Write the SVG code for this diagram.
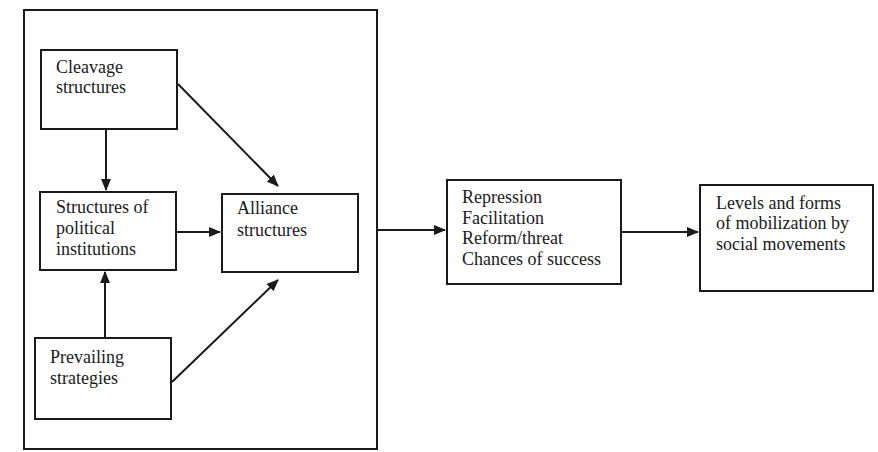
<svg xmlns="http://www.w3.org/2000/svg" width="878" height="452" viewBox="0 0 878 452">
<defs>
<marker id="ah" markerWidth="12" markerHeight="10" refX="11" refY="5" orient="auto" markerUnits="userSpaceOnUse">
<path d="M0,0 L12,5 L0,10 Z" fill="#1a1a1a"/>
</marker>
<style>
.box{fill:#fff;stroke:#1a1a1a;stroke-width:2}
.frame{fill:none;stroke:#1a1a1a;stroke-width:2}
.t{font-family:"Liberation Serif","Times New Roman",serif;font-size:18px;fill:#1a1a1a}
.c{stroke:#1a1a1a;stroke-width:2;fill:none;marker-end:url(#ah)}
</style>
</defs>
<rect width="878" height="452" fill="#fff"/>
<g id="frame"><rect class="frame" x="24" y="10" width="353" height="439"/></g>
<g id="cleavage"><rect class="box" x="41" y="50" width="136" height="79"/>
<text class="t" x="56" y="73">Cleavage</text><text class="t" x="56" y="93">structures</text></g>
<g id="institutions"><rect class="box" x="40" y="192" width="136" height="78"/>
<text class="t" x="56" y="213">Structures of</text><text class="t" x="56" y="234">political</text><text class="t" x="56" y="255">institutions</text></g>
<g id="alliance"><rect class="box" x="222" y="194" width="136" height="78"/>
<text class="t" x="237" y="214">Alliance</text><text class="t" x="237" y="236">structures</text></g>
<g id="prevailing"><rect class="box" x="35" y="338" width="136" height="81"/>
<text class="t" x="50" y="363">Prevailing</text><text class="t" x="50" y="384">strategies</text></g>
<g id="outputs"><rect class="box" x="447" y="180" width="174" height="104"/>
<text class="t" x="462" y="203">Repression</text><text class="t" x="462" y="224">Facilitation</text><text class="t" x="462" y="244">Reform/threat</text><text class="t" x="462" y="265">Chances of success</text></g>
<g id="mobilization"><rect class="box" x="700" y="185" width="173" height="106"/>
<text class="t" x="716" y="209">Levels and forms</text><text class="t" x="716" y="229">of mobilization by</text><text class="t" x="716" y="250">social movements</text></g>
<g id="connectors">
<line class="c" x1="106" y1="129" x2="106" y2="190"/>
<line class="c" x1="178" y1="84" x2="278" y2="186"/>
<line class="c" x1="176" y1="232" x2="220" y2="232"/>
<line class="c" x1="105" y1="338" x2="105" y2="272"/>
<line class="c" x1="172" y1="382" x2="278" y2="280"/>
<line class="c" x1="377" y1="230" x2="445" y2="230"/>
<line class="c" x1="621" y1="232" x2="698" y2="232"/>
</g>
</svg>
